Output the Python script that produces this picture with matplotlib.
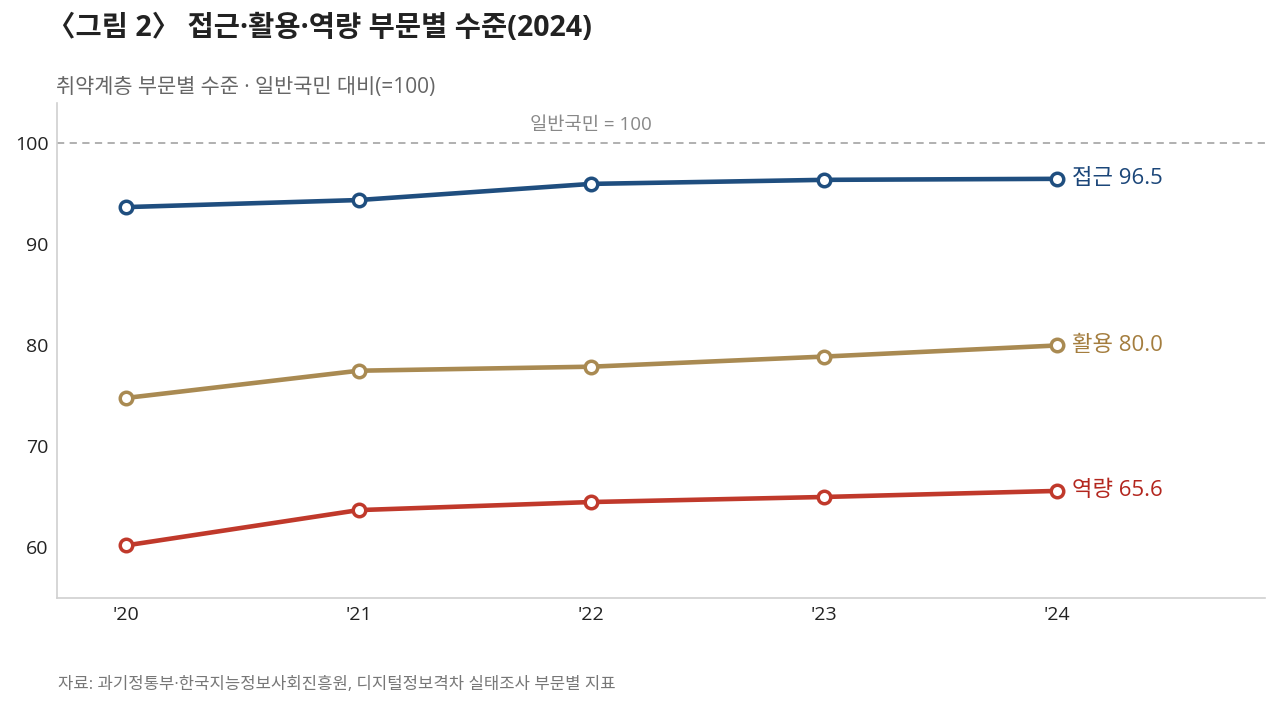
import matplotlib
matplotlib.use("Agg")
import matplotlib.pyplot as plt

plt.rcParams['font.family'] = ['Open Sans', 'Noto Sans CJK KR', 'DejaVu Sans']

years = ["'20", "'21", "'22", "'23", "'24"]
access = [93.7, 94.4, 96.0, 96.4, 96.5]
usage = [74.8, 77.5, 77.9, 78.9, 80.0]
capability = [60.2, 63.7, 64.5, 65.0, 65.6]
series_names = ["접근", "활용", "역량"]
yticks = [60, 70, 80, 90, 100]

line_colors = ["#1f4e7f", "#a98a52", "#c0392b"]
label_colors = ["#1b4679", "#a47d3e", "#b3261e"]

fig = plt.figure(figsize=(12.8, 7.08), dpi=100)
ax = fig.add_axes([0.0445, 0.1554, 0.9435, 0.699])

x = list(range(len(years)))
for vals, name, lc, tc in zip([access, usage, capability], series_names, line_colors, label_colors):
    ax.plot(x, vals, color=lc, lw=3.3, marker='o', markersize=9,
            markerfacecolor='white', markeredgecolor=lc, markeredgewidth=2.5,
            solid_capstyle='round', zorder=3)
    ax.annotate(f"{name} {vals[-1]:.1f}", xy=(x[-1], vals[-1]), xytext=(11, 0),
                textcoords='offset points', va='center', ha='left',
                fontsize=16, color=tc)

ax.axhline(100, color='#aaaaaa', lw=1.3, ls=(0, (4, 3)), zorder=1)
ax.text(2, 100.9, "일반국민 = 100", ha='center', va='bottom', fontsize=13.5, color='#888888')

ax.set_xlim(-0.296, 4.894)
ax.set_ylim(55, 104)
ax.set_xticks(x)
ax.set_xticklabels(years)
ax.set_yticks(yticks)
ax.tick_params(axis='both', length=0, labelsize=14, colors='#222222')
ax.tick_params(axis='x', pad=6)
ax.tick_params(axis='y', pad=6)
for s in ['top', 'right']:
    ax.spines[s].set_visible(False)
for s in ['left', 'bottom']:
    ax.spines[s].set_color('#d0d0d0')
    ax.spines[s].set_linewidth(1.2)

fig.text(0.037, 0.96, "〈그림 2〉 접근·활용·역량 부문별 수준(2024)", fontsize=20.5,
         fontweight='bold', color='#222222', va='center', ha='left')
fig.text(0.044, 0.877, "취약계층 부문별 수준 · 일반국민 대비(=100)", fontsize=15,
         color='#666666', va='center', ha='left')
fig.text(0.045, 0.032, "자료: 과기정통부·한국지능정보사회진흥원, 디지털정보격차 실태조사 부문별 지표",
         fontsize=12, color='#777777', va='center', ha='left')

fig.savefig("out.png", dpi=100)
